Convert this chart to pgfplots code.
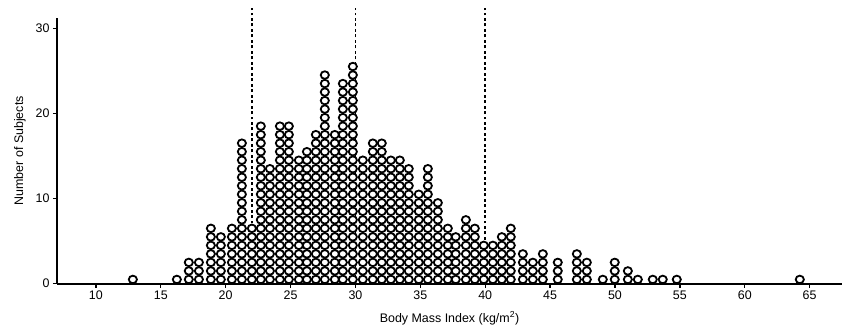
\documentclass[border=0pt]{standalone}
\usepackage{pgfplots}
\pgfplotsset{compat=1.18}
\usepackage{fontspec}
\setmainfont{Liberation Sans}
\begin{document}
\begin{tikzpicture}
\begin{axis}[
  scale only axis,
  width=786bp, height=266bp,
  xmin=7, xmax=67.5, ymin=0, ymax=31.2,
  axis lines=left,
  axis line style={-, line width=1.8pt, black},
  xtick={10,15,...,65},
  ytick={0,10,20,30},
  tick style={black, line width=1.3pt},
  tick align=outside,
  major tick length=4bp,
  tick label style={font=\fontsize{12.5}{13}\selectfont},
  /pgf/number format/assume math mode=true,
  xlabel={Body Mass Index (kg/m\textsuperscript{2})},
  ylabel={Number of Subjects},
  label style={font=\fontsize{12.5}{13}\selectfont},
  xlabel style={yshift=-5bp},
  ylabel style={yshift=3bp},
  clip=false,
]
\addplot[only marks, mark=*, mark size=3.8pt, mark options={line width=1.8pt, fill=white, draw=black, xscale=1.08}] coordinates {
(12.85,0.5)
(16.24,0.5)
(17.16,0.5)(17.16,1.5)(17.16,2.5)
(17.94,0.5)(17.94,1.5)(17.94,2.5)
(18.86,0.5)(18.86,1.5)(18.86,2.5)(18.86,3.5)(18.86,4.5)(18.86,5.5)(18.86,6.5)
(19.63,0.5)(19.63,1.5)(19.63,2.5)(19.63,3.5)(19.63,4.5)(19.63,5.5)
(20.48,0.5)(20.48,1.5)(20.48,2.5)(20.48,3.5)(20.48,4.5)(20.48,5.5)(20.48,6.5)
(21.25,0.5)(21.25,1.5)(21.25,2.5)(21.25,3.5)(21.25,4.5)(21.25,5.5)(21.25,6.5)(21.25,7.5)(21.25,8.5)(21.25,9.5)(21.25,10.5)(21.25,11.5)(21.25,12.5)(21.25,13.5)(21.25,14.5)(21.25,15.5)(21.25,16.5)
(22.02,0.5)(22.02,1.5)(22.02,2.5)(22.02,3.5)(22.02,4.5)(22.02,5.5)(22.02,6.5)
(22.71,0.5)(22.71,1.5)(22.71,2.5)(22.71,3.5)(22.71,4.5)(22.71,5.5)(22.71,6.5)(22.71,7.5)(22.71,8.5)(22.71,9.5)(22.71,10.5)(22.71,11.5)(22.71,12.5)(22.71,13.5)(22.71,14.5)(22.71,15.5)(22.71,16.5)(22.71,17.5)(22.71,18.5)
(23.41,0.5)(23.41,1.5)(23.41,2.5)(23.41,3.5)(23.41,4.5)(23.41,5.5)(23.41,6.5)(23.41,7.5)(23.41,8.5)(23.41,9.5)(23.41,10.5)(23.41,11.5)(23.41,12.5)(23.41,13.5)
(24.18,0.5)(24.18,1.5)(24.18,2.5)(24.18,3.5)(24.18,4.5)(24.18,5.5)(24.18,6.5)(24.18,7.5)(24.18,8.5)(24.18,9.5)(24.18,10.5)(24.18,11.5)(24.18,12.5)(24.18,13.5)(24.18,14.5)(24.18,15.5)(24.18,16.5)(24.18,17.5)(24.18,18.5)
(24.87,0.5)(24.87,1.5)(24.87,2.5)(24.87,3.5)(24.87,4.5)(24.87,5.5)(24.87,6.5)(24.87,7.5)(24.87,8.5)(24.87,9.5)(24.87,10.5)(24.87,11.5)(24.87,12.5)(24.87,13.5)(24.87,14.5)(24.87,15.5)(24.87,16.5)(24.87,17.5)(24.87,18.5)
(25.64,0.5)(25.64,1.5)(25.64,2.5)(25.64,3.5)(25.64,4.5)(25.64,5.5)(25.64,6.5)(25.64,7.5)(25.64,8.5)(25.64,9.5)(25.64,10.5)(25.64,11.5)(25.64,12.5)(25.64,13.5)(25.64,14.5)
(26.26,0.5)(26.26,1.5)(26.26,2.5)(26.26,3.5)(26.26,4.5)(26.26,5.5)(26.26,6.5)(26.26,7.5)(26.26,8.5)(26.26,9.5)(26.26,10.5)(26.26,11.5)(26.26,12.5)(26.26,13.5)(26.26,14.5)(26.26,15.5)
(26.95,0.5)(26.95,1.5)(26.95,2.5)(26.95,3.5)(26.95,4.5)(26.95,5.5)(26.95,6.5)(26.95,7.5)(26.95,8.5)(26.95,9.5)(26.95,10.5)(26.95,11.5)(26.95,12.5)(26.95,13.5)(26.95,14.5)(26.95,15.5)(26.95,16.5)(26.95,17.5)
(27.64,0.5)(27.64,1.5)(27.64,2.5)(27.64,3.5)(27.64,4.5)(27.64,5.5)(27.64,6.5)(27.64,7.5)(27.64,8.5)(27.64,9.5)(27.64,10.5)(27.64,11.5)(27.64,12.5)(27.64,13.5)(27.64,14.5)(27.64,15.5)(27.64,16.5)(27.64,17.5)(27.64,18.5)(27.64,19.5)(27.64,20.5)(27.64,21.5)(27.64,22.5)(27.64,23.5)(27.64,24.5)
(28.41,0.5)(28.41,1.5)(28.41,2.5)(28.41,3.5)(28.41,4.5)(28.41,5.5)(28.41,6.5)(28.41,7.5)(28.41,8.5)(28.41,9.5)(28.41,10.5)(28.41,11.5)(28.41,12.5)(28.41,13.5)(28.41,14.5)(28.41,15.5)(28.41,16.5)(28.41,17.5)
(29.03,0.5)(29.03,1.5)(29.03,2.5)(29.03,3.5)(29.03,4.5)(29.03,5.5)(29.03,6.5)(29.03,7.5)(29.03,8.5)(29.03,9.5)(29.03,10.5)(29.03,11.5)(29.03,12.5)(29.03,13.5)(29.03,14.5)(29.03,15.5)(29.03,16.5)(29.03,17.5)(29.03,18.5)(29.03,19.5)(29.03,20.5)(29.03,21.5)(29.03,22.5)(29.03,23.5)
(29.80,0.5)(29.80,1.5)(29.80,2.5)(29.80,3.5)(29.80,4.5)(29.80,5.5)(29.80,6.5)(29.80,7.5)(29.80,8.5)(29.80,9.5)(29.80,10.5)(29.80,11.5)(29.80,12.5)(29.80,13.5)(29.80,14.5)(29.80,15.5)(29.80,16.5)(29.80,17.5)(29.80,18.5)(29.80,19.5)(29.80,20.5)(29.80,21.5)(29.80,22.5)(29.80,23.5)(29.80,24.5)(29.80,25.5)
(30.57,0.5)(30.57,1.5)(30.57,2.5)(30.57,3.5)(30.57,4.5)(30.57,5.5)(30.57,6.5)(30.57,7.5)(30.57,8.5)(30.57,9.5)(30.57,10.5)(30.57,11.5)(30.57,12.5)(30.57,13.5)(30.57,14.5)
(31.34,0.5)(31.34,1.5)(31.34,2.5)(31.34,3.5)(31.34,4.5)(31.34,5.5)(31.34,6.5)(31.34,7.5)(31.34,8.5)(31.34,9.5)(31.34,10.5)(31.34,11.5)(31.34,12.5)(31.34,13.5)(31.34,14.5)(31.34,15.5)(31.34,16.5)
(32.03,0.5)(32.03,1.5)(32.03,2.5)(32.03,3.5)(32.03,4.5)(32.03,5.5)(32.03,6.5)(32.03,7.5)(32.03,8.5)(32.03,9.5)(32.03,10.5)(32.03,11.5)(32.03,12.5)(32.03,13.5)(32.03,14.5)(32.03,15.5)(32.03,16.5)
(32.73,0.5)(32.73,1.5)(32.73,2.5)(32.73,3.5)(32.73,4.5)(32.73,5.5)(32.73,6.5)(32.73,7.5)(32.73,8.5)(32.73,9.5)(32.73,10.5)(32.73,11.5)(32.73,12.5)(32.73,13.5)(32.73,14.5)
(33.42,0.5)(33.42,1.5)(33.42,2.5)(33.42,3.5)(33.42,4.5)(33.42,5.5)(33.42,6.5)(33.42,7.5)(33.42,8.5)(33.42,9.5)(33.42,10.5)(33.42,11.5)(33.42,12.5)(33.42,13.5)(33.42,14.5)
(34.11,0.5)(34.11,1.5)(34.11,2.5)(34.11,3.5)(34.11,4.5)(34.11,5.5)(34.11,6.5)(34.11,7.5)(34.11,8.5)(34.11,9.5)(34.11,10.5)(34.11,11.5)(34.11,12.5)(34.11,13.5)
(34.88,0.5)(34.88,1.5)(34.88,2.5)(34.88,3.5)(34.88,4.5)(34.88,5.5)(34.88,6.5)(34.88,7.5)(34.88,8.5)(34.88,9.5)(34.88,10.5)
(35.58,0.5)(35.58,1.5)(35.58,2.5)(35.58,3.5)(35.58,4.5)(35.58,5.5)(35.58,6.5)(35.58,7.5)(35.58,8.5)(35.58,9.5)(35.58,10.5)(35.58,11.5)(35.58,12.5)(35.58,13.5)
(36.35,0.5)(36.35,1.5)(36.35,2.5)(36.35,3.5)(36.35,4.5)(36.35,5.5)(36.35,6.5)(36.35,7.5)(36.35,8.5)(36.35,9.5)
(37.12,0.5)(37.12,1.5)(37.12,2.5)(37.12,3.5)(37.12,4.5)(37.12,5.5)(37.12,6.5)
(37.73,0.5)(37.73,1.5)(37.73,2.5)(37.73,3.5)(37.73,4.5)(37.73,5.5)
(38.51,0.5)(38.51,1.5)(38.51,2.5)(38.51,3.5)(38.51,4.5)(38.51,5.5)(38.51,6.5)(38.51,7.5)
(39.20,0.5)(39.20,1.5)(39.20,2.5)(39.20,3.5)(39.20,4.5)(39.20,5.5)(39.20,6.5)
(39.89,0.5)(39.89,1.5)(39.89,2.5)(39.89,3.5)(39.89,4.5)
(40.59,0.5)(40.59,1.5)(40.59,2.5)(40.59,3.5)(40.59,4.5)
(41.28,0.5)(41.28,1.5)(41.28,2.5)(41.28,3.5)(41.28,4.5)(41.28,5.5)
(41.97,0.5)(41.97,1.5)(41.97,2.5)(41.97,3.5)(41.97,4.5)(41.97,5.5)(41.97,6.5)
(42.90,0.5)(42.90,1.5)(42.90,2.5)(42.90,3.5)
(43.67,0.5)(43.67,1.5)(43.67,2.5)
(44.44,0.5)(44.44,1.5)(44.44,2.5)(44.44,3.5)
(45.59,0.5)(45.59,1.5)(45.59,2.5)
(47.06,0.5)(47.06,1.5)(47.06,2.5)(47.06,3.5)
(47.83,0.5)(47.83,1.5)(47.83,2.5)
(49.06,0.5)
(49.98,0.5)(49.98,1.5)(49.98,2.5)
(50.99,0.5)(50.99,1.5)
(51.76,0.5)
(52.91,0.5)
(53.68,0.5)
(54.76,0.5)
(64.24,0.5)
};
\addplot[black, line width=1.8pt, dash pattern=on 3pt off 2.5pt, forget plot] coordinates {(22,0)(22,32.4)};
\addplot[black, line width=1.8pt, dash pattern=on 3pt off 2.5pt, forget plot] coordinates {(30,0)(30,32.4)};
\addplot[black, line width=1.8pt, dash pattern=on 3pt off 2.5pt, forget plot] coordinates {(40,0)(40,32.4)};
\end{axis}
\path (current axis.south west) ++(-57bp,-49bp) coordinate (a);
\path (current axis.north east) ++(0bp,18bp) coordinate (b);
\path (a) rectangle (b);
\end{tikzpicture}
\end{document}
